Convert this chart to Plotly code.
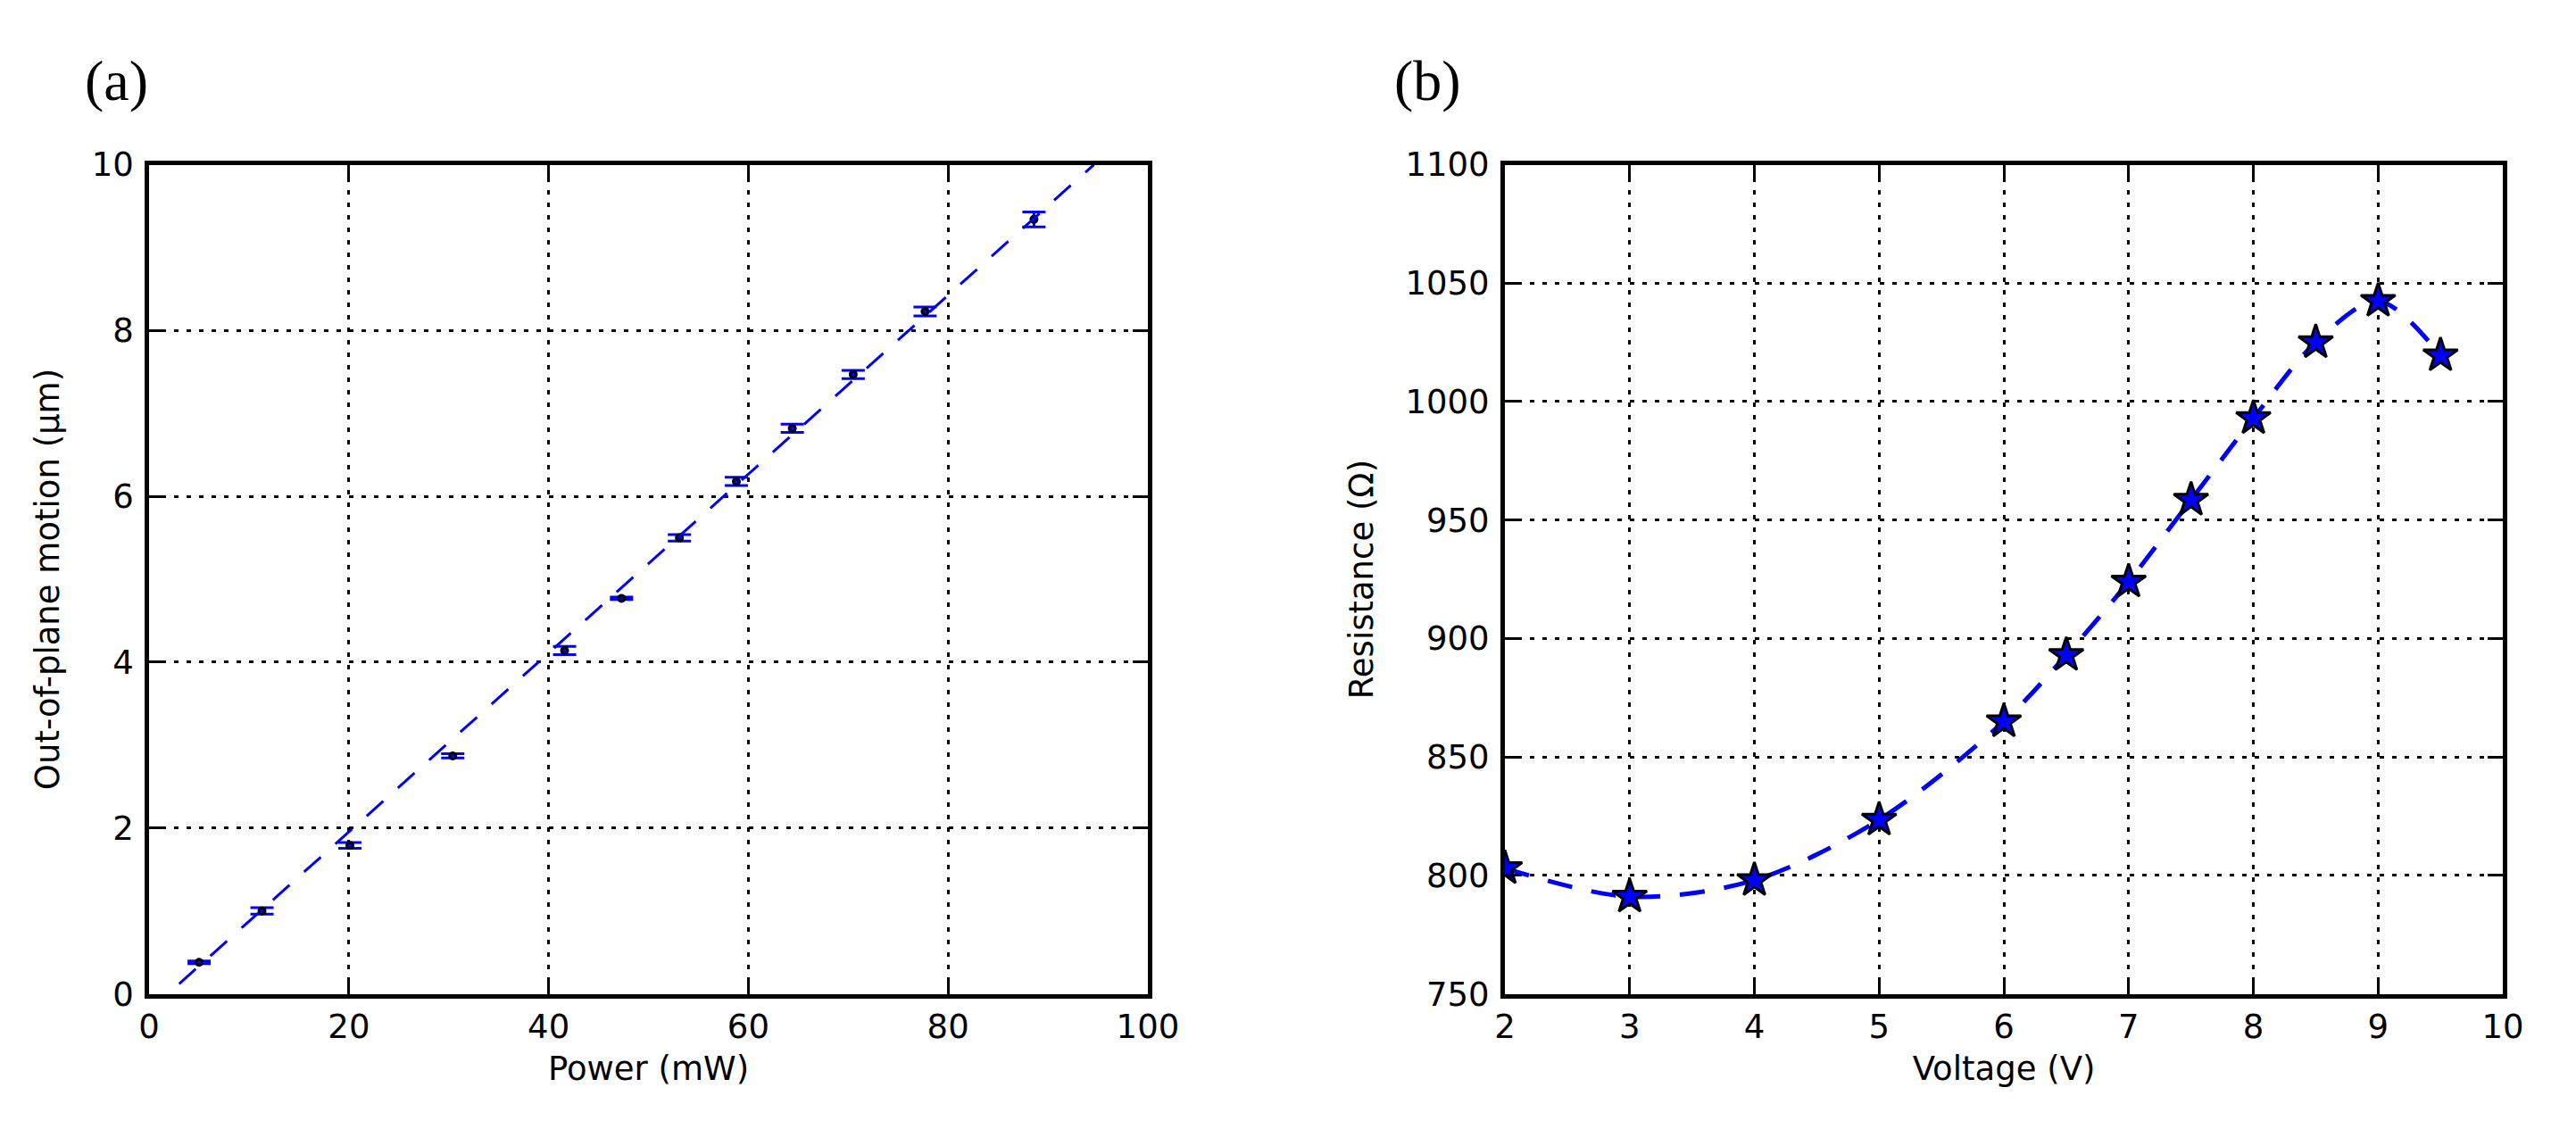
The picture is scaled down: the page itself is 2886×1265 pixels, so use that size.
import plotly.graph_objects as go

# ---- Panel (a) data ----
power_mw = [5.0, 11.3, 20.1, 30.4, 41.6, 47.3, 53.1, 58.8, 64.4, 70.5, 77.7, 88.6]
motion_um = [0.38, 1.00, 1.79, 2.87, 4.14, 4.77, 5.50, 6.18, 6.82, 7.47, 8.23, 9.34]
motion_err = [0.015, 0.04, 0.035, 0.025, 0.05, 0.015, 0.04, 0.05, 0.05, 0.05, 0.055, 0.09]
fit_x = [3.0, 94.6]
fit_y = [0.12, 10.0]
a_xticks = [0, 20, 40, 60, 80, 100]
a_yticks = [0, 2, 4, 6, 8, 10]

# ---- Panel (b) data ----
voltage_v = [2, 3, 4, 5, 6, 6.5, 7, 7.5, 8, 8.5, 9, 9.5]
resistance_ohm = [803, 791, 798, 823.5, 865, 893, 924, 958.5, 993, 1025, 1042.5, 1019.5]
b_xticks = [2, 3, 4, 5, 6, 7, 8, 9, 10]
b_yticks = [750, 800, 850, 900, 950, 1000, 1050, 1100]

W, H = 2886, 1265
BLUE = "#0000ff"
FONT = "DejaVu Sans"
FS = 37

fig = go.Figure()

fig.add_trace(go.Scatter(
    x=power_mw, y=motion_um, mode="markers",
    marker=dict(size=7, color=BLUE, line=dict(color="black", width=3)),
    error_y=dict(type="data", array=motion_err, visible=True, color=BLUE,
                 thickness=3, width=13),
    xaxis="x", yaxis="y", showlegend=False,
))
fig.add_trace(go.Scatter(
    x=fit_x, y=fit_y, mode="lines",
    line=dict(color=BLUE, width=3, dash="25px,22px"),
    xaxis="x", yaxis="y", showlegend=False,
))
fig.add_trace(go.Scatter(
    x=voltage_v, y=resistance_ohm, mode="lines+markers",
    line=dict(color=BLUE, width=5, dash="28px,22px", shape="spline", smoothing=0.9),
    marker=dict(symbol="star", size=29, color=BLUE, line=dict(color="black", width=3)),
    xaxis="x2", yaxis="y2", showlegend=False,
))

def px_to_paper_x(px):
    return px / W

def px_to_paper_y(py):
    return 1 - py / H

common_axis = dict(
    showline=True, linecolor="black", linewidth=5, mirror="allticks",
    ticks="inside", ticklen=17, tickwidth=3, tickcolor="black",
    showgrid=True, gridcolor="black", gridwidth=3, griddash="5px,9px",
    zeroline=False,
    tickfont=dict(family=FONT, size=FS, color="black"),
)

ydom = [px_to_paper_y(1131), px_to_paper_y(169.3)]

fig.update_layout(
    width=W, height=H,
    margin=dict(l=0, r=0, t=0, b=0),
    paper_bgcolor="white", plot_bgcolor="white",
    font=dict(family=FONT, size=FS, color="black"),
    xaxis=dict(domain=[px_to_paper_x(157.7), px_to_paper_x(1295)], range=[0, 100],
               tickvals=a_xticks, anchor="y",
               title=dict(text="Power (mW)", font=dict(family=FONT, size=FS), standoff=15),
               **common_axis),
    yaxis=dict(domain=ydom, range=[0, 10], tickvals=a_yticks, anchor="x",
               ticklabelstandoff=5,
               title=dict(text="Out-of-plane motion (µm)", font=dict(family=FONT, size=FS), standoff=26),
               **common_axis),
    xaxis2=dict(domain=[px_to_paper_x(1701.7), px_to_paper_x(2838.3)], range=[2, 10],
                tickvals=b_xticks, anchor="y2",
                title=dict(text="Voltage (V)", font=dict(family=FONT, size=FS), standoff=15),
                **common_axis),
    yaxis2=dict(domain=ydom, range=[750, 1100], tickvals=b_yticks, anchor="x2",
                ticklabelstandoff=5,
                title=dict(text="Resistance (Ω)", font=dict(family=FONT, size=FS), standoff=26),
                **common_axis),
    annotations=[
        dict(text="(a)", xref="paper", yref="paper", x=px_to_paper_x(82), y=px_to_paper_y(72),
             xanchor="left", yanchor="middle", showarrow=False,
             font=dict(family="Liberation Serif", size=64, color="black")),
        dict(text="(b)", xref="paper", yref="paper", x=px_to_paper_x(1574), y=px_to_paper_y(72),
             xanchor="left", yanchor="middle", showarrow=False,
             font=dict(family="Liberation Serif", size=64, color="black")),
    ],
)

fig.write_html(
    "out.html",
    config={"displayModeBar": False},
    post_script="document.body.style.margin='0';document.body.style.overflow='hidden';",
)
